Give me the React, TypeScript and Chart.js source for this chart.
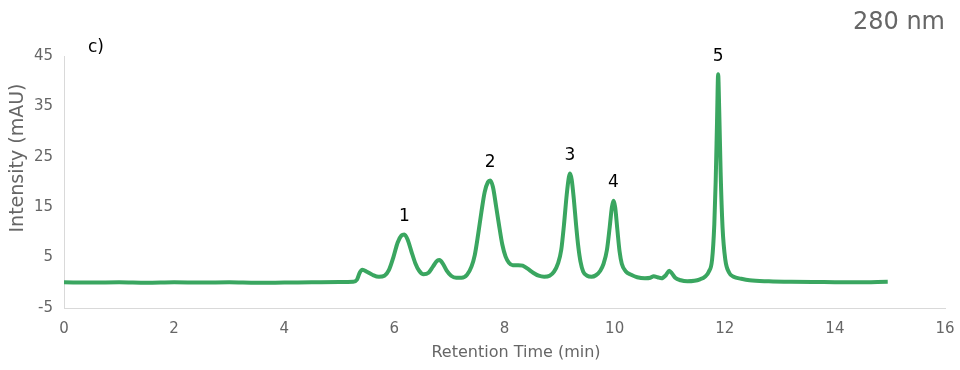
import React, { useEffect, useRef } from "react";
import { Chart, registerables } from "chart.js";

Chart.register(...registerables);

// Chromatogram trace (retention time in min, intensity in mAU)
const retentionTimes = [
  0, 0.5, 1, 1.5, 2, 2.5, 3, 3.5, 4, 4.5, 5, 5.25,
  5.32, 5.37, 5.42, 5.5, 5.6, 5.72, 5.82, 5.9, 5.98, 6.06, 6.13, 6.18, 6.24, 6.31, 6.38, 6.45, 6.53,
  6.62, 6.7, 6.78, 6.82, 6.88, 6.95, 7.03, 7.12, 7.22, 7.32, 7.4, 7.46, 7.52, 7.58, 7.64, 7.7, 7.74,
  7.79, 7.85, 7.9, 7.96, 8.02, 8.08, 8.15, 8.25, 8.33, 8.42, 8.52, 8.62, 8.72, 8.82, 8.9, 8.97, 9.03,
  9.08, 9.13, 9.17, 9.19, 9.22, 9.26, 9.3, 9.34, 9.38, 9.43, 9.5, 9.58, 9.66, 9.74, 9.8, 9.86, 9.91,
  9.95, 9.98, 10.01, 10.05, 10.09, 10.13, 10.2, 10.3, 10.41, 10.55, 10.65, 10.71, 10.78, 10.85, 10.93,
  10.99, 11.04, 11.1, 11.2, 11.32, 11.45, 11.55, 11.64, 11.71, 11.77, 11.81, 11.835, 11.86, 11.88,
  11.9, 11.925, 11.96, 12.01, 12.08, 12.16, 12.3, 12.45, 12.8, 13.2, 13.8, 14.4, 14.96,
];
const intensities = [
  0.1, 0.05, 0.1, 0.0, 0.1, 0.05, 0.1, 0.0, 0.05, 0.1, 0.15, 0.2,
  0.6, 2.0, 2.6, 2.2, 1.6, 1.2, 1.4, 2.5, 5.0, 8.0, 9.4, 9.6, 8.6, 6.2, 3.9, 2.4, 1.7,
  2.0, 3.2, 4.4, 4.5, 3.8, 2.4, 1.4, 1.0, 1.0, 1.6, 3.2, 5.5, 9.5, 14.0, 18.0, 20.0, 20.3,
  19.0, 15.0, 11.5, 7.6, 5.2, 4.0, 3.5, 3.5, 3.4, 2.8, 2.0, 1.4, 1.2, 1.4, 2.2, 3.8, 6.5,
  11.5, 17.5, 21.0, 21.7, 20.5, 16.5, 11.5, 7.2, 4.2, 2.2, 1.4, 1.2, 1.5, 2.4, 3.8, 6.5, 11.0,
  15.0, 16.3, 15.0, 10.5, 6.2, 3.8, 2.3, 1.6, 1.1, 0.9, 1.0, 1.3, 1.1, 0.9, 1.5,
  2.4, 1.9, 1.0, 0.5, 0.3, 0.4, 0.7, 1.2, 2.2, 4.6, 11.5, 20.0, 32.0, 41.4,
  34.0, 22.0, 11.0, 4.6, 2.0, 1.2, 0.8, 0.5, 0.3, 0.2, 0.15, 0.1, 0.2,
];

const xTickMin = 0;
const xTickMax = 16;
const xTickStep = 2;
const yTickMin = -5;
const yTickMax = 45;
const yTickStep = 10;

const peakLabels = ["1", "2", "3", "4", "5"];
const peakTimes = [6.18, 7.74, 9.19, 9.98, 11.88];
const peakHeights = [9.6, 20.3, 21.7, 16.3, 41.4];

const xTitle = "Retention Time (min)";
const yTitle = "Intensity (mAU)";
const panelLabel = "c)";
const wavelengthLabel = "280 nm";

const FONT = "'DejaVu Sans', Verdana, sans-serif";
const GREY = "#666666";

const overlayPlugin = {
  id: "overlay",
  afterDraw(chart: any) {
    const { ctx, scales } = chart;
    const xs = scales.x;
    const ys = scales.y;
    ctx.save();
    // peak labels
    ctx.fillStyle = "#000000";
    ctx.font = `17px ${FONT}`;
    ctx.textAlign = "center";
    ctx.textBaseline = "middle";
    peakLabels.forEach((lab, i) => {
      const px = xs.getPixelForValue(peakTimes[i]);
      const py = ys.getPixelForValue(peakHeights[i]) - 18;
      ctx.fillText(lab, px, py);
    });
    // panel label
    ctx.textAlign = "left";
    ctx.font = `17px ${FONT}`;
    ctx.fillText(panelLabel, 88, 48);
    // wavelength
    ctx.fillStyle = GREY;
    ctx.font = `24px ${FONT}`;
    ctx.textAlign = "right";
    ctx.fillText(wavelengthLabel, 945, 23);
    // x title
    ctx.font = `16px ${FONT}`;
    ctx.textAlign = "center";
    ctx.fillText(xTitle, 516, 353);
    // y title
    ctx.font = `19px ${FONT}`;
    ctx.translate(18, 158);
    ctx.rotate(-Math.PI / 2);
    ctx.fillText(yTitle, 0, 0);
    ctx.restore();
  },
};

export default function App() {
  const ref = useRef<HTMLCanvasElement | null>(null);
  useEffect(() => {
    if (!ref.current) return;
    const points = retentionTimes.map((t, i) => ({ x: t, y: intensities[i] }));
    const chart = new Chart(ref.current, {
      type: "line",
      data: {
        datasets: [
          {
            data: points,
            borderColor: "rgb(58,166,96)",
            borderWidth: 4,
            pointRadius: 0,
            fill: false,
            cubicInterpolationMode: "monotone",
          },
        ],
      },
      options: {
        animation: false,
        responsive: false,
        layout: { padding: { top: 56, right: 15, left: 0, bottom: 0 } },
        plugins: { legend: { display: false }, tooltip: { enabled: false } },
        scales: {
          x: {
            type: "linear",
            min: xTickMin,
            max: xTickMax,
            grid: { display: false, drawTicks: false },
            border: { display: true, color: "#d9d9d9", width: 1 },
            ticks: {
              stepSize: xTickStep,
              padding: 12,
              color: GREY,
              font: { family: FONT, size: 15 },
              maxRotation: 0,
            },
            afterFit(scale: any) {
              scale.height = 62;
              scale.paddingLeft = 0;
              scale.paddingRight = 0;
            },
          },
          y: {
            min: yTickMin,
            max: yTickMax,
            grid: { display: false, drawTicks: false },
            border: { display: true, color: "#d9d9d9", width: 1 },
            ticks: {
              stepSize: yTickStep,
              padding: 11,
              color: GREY,
              font: { family: FONT, size: 15 },
            },
            afterFit(scale: any) {
              scale.width = 64;
              scale.paddingTop = 0;
              scale.paddingBottom = 0;
            },
          },
        },
      },
      plugins: [overlayPlugin],
    });
    return () => chart.destroy();
  }, []);
  return (
    <div style={{ position: "absolute", left: 0, top: 0, width: 960, height: 370, background: "#fff" }}>
      <canvas ref={ref} width={960} height={370} />
    </div>
  );
}
